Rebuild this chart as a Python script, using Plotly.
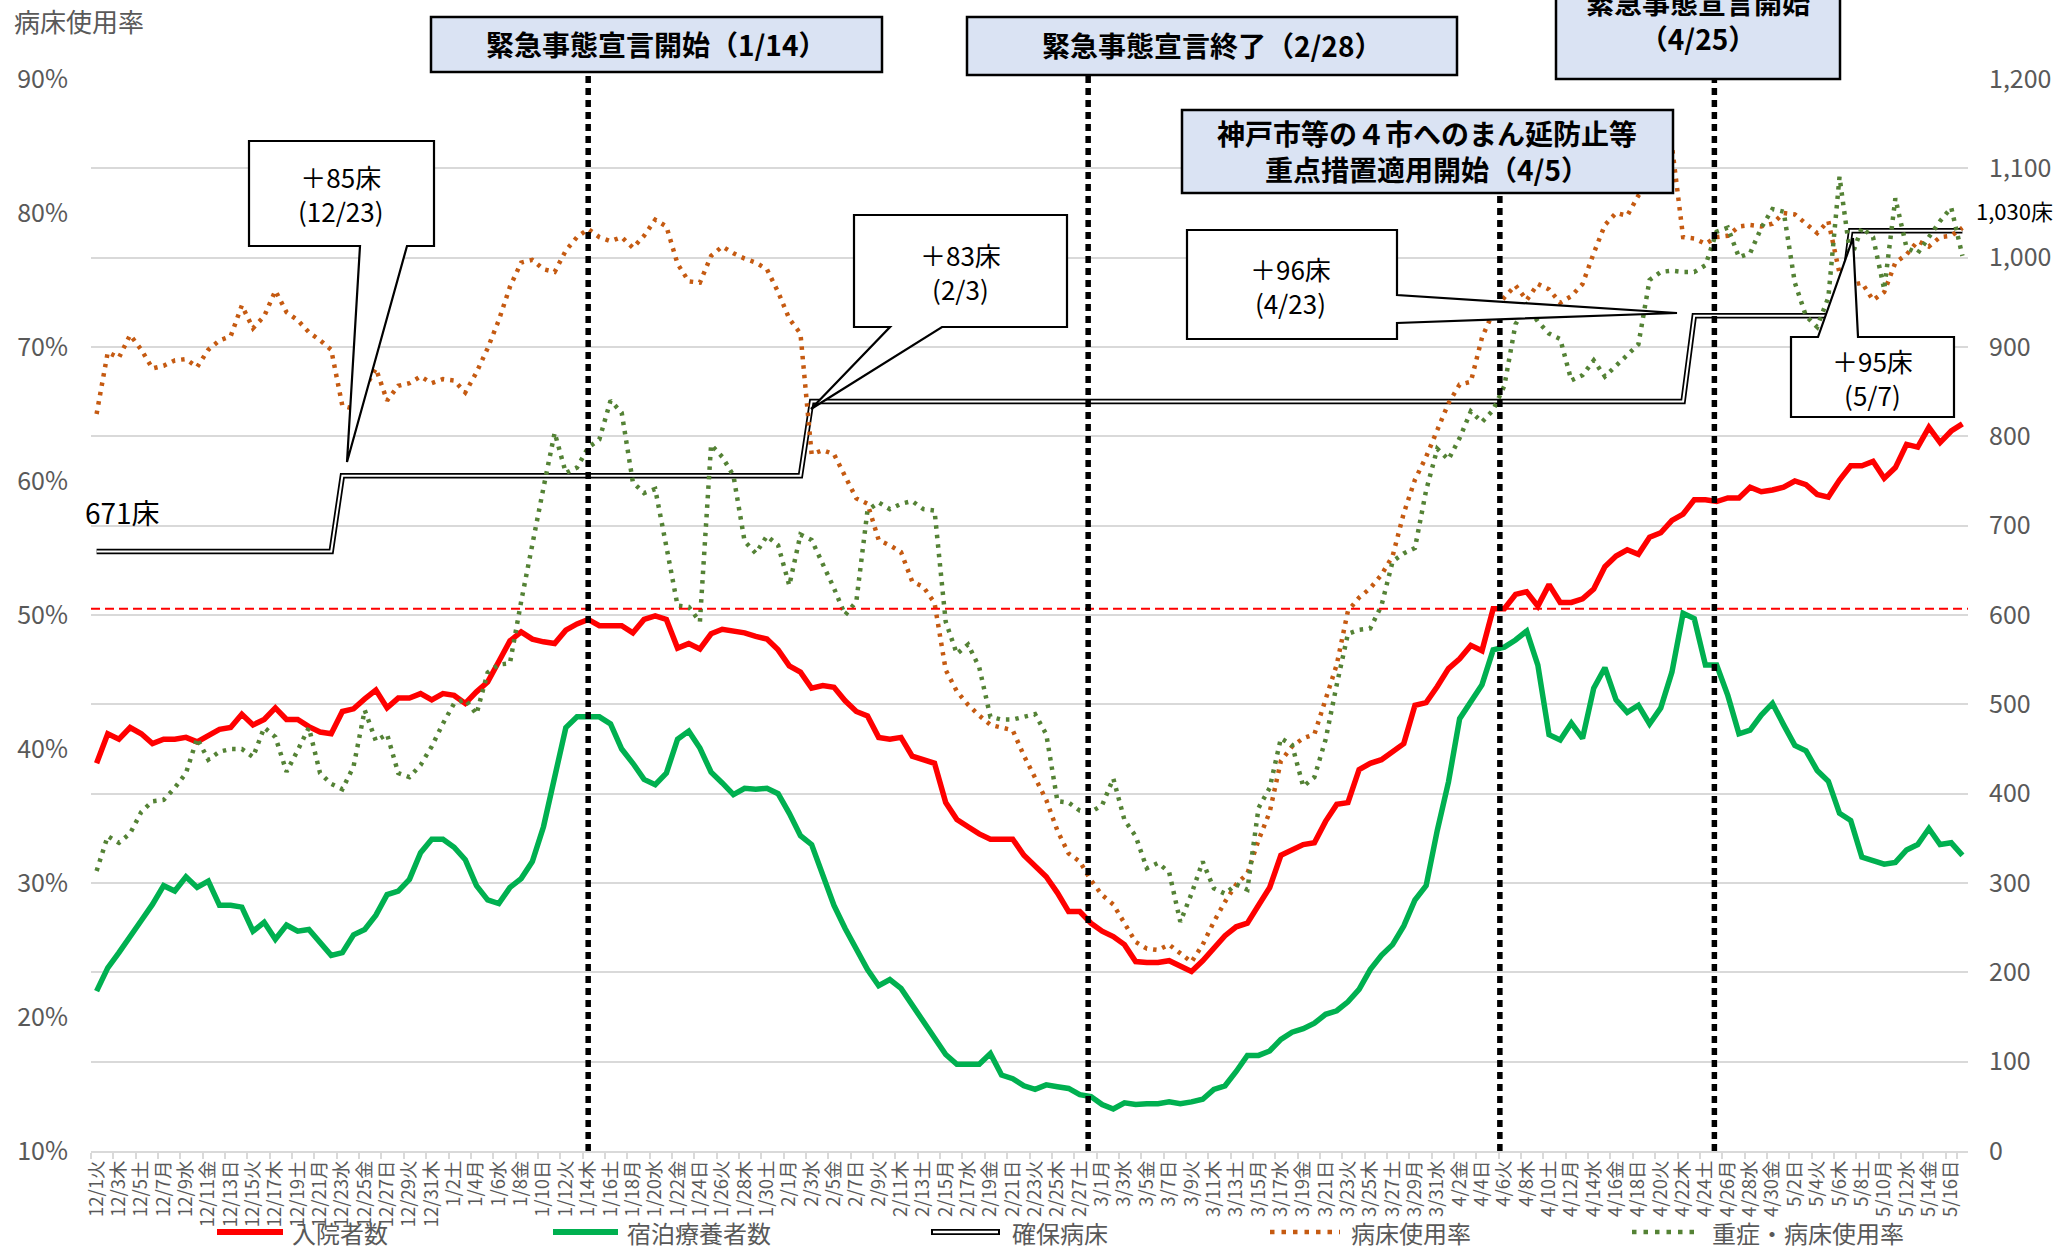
import datetime as dt
import plotly.graph_objects as go

# ---------------------------------------------------------------- data
WEEKDAYS = ["月", "火", "水", "木", "金", "土", "日"]
first_day = dt.date(2020, 12, 1)
n_days = 168
categories = []
for i in range(n_days):
    d = first_day + dt.timedelta(days=i)
    categories.append(f"{d.month}/{d.day}{WEEKDAYS[d.weekday()]}")
tick_labels = categories[::2]

# 入院者数 (right axis, persons)
inpatients = [
    434, 467, 461, 474, 467, 456, 461, 461, 463, 458, 465, 472, 474, 489,
    477, 483, 496, 483, 483, 475, 469, 467, 492, 495, 506, 516, 496, 507,
    507, 512, 505, 512, 510, 501, 514, 525, 548, 571, 581, 573, 570, 568,
    583, 590, 595, 588, 588, 588, 580, 595, 599, 595, 563, 568, 562, 579,
    584, 582, 580, 576, 573, 561, 543, 536, 518, 521, 519, 504, 492, 487,
    463, 461, 463, 442, 438, 434, 390, 371, 363, 355, 349, 349, 349, 331,
    319, 307, 289, 268, 268, 255, 246, 240, 231, 212, 211, 211, 213, 207,
    201, 213, 227, 241, 251, 255, 275, 295, 331, 337, 343, 345, 369, 388,
    390, 427, 434, 438, 447, 456, 499, 502, 520, 540, 551, 566, 560, 607,
    607, 623, 626, 610, 634, 614, 614, 618, 629, 654, 666, 673, 668, 687,
    692, 706, 713, 729, 729, 727, 731, 731, 743, 738, 740, 743, 750, 746,
    735, 732, 751, 767, 767, 772, 753, 765, 791, 788, 810, 793, 806, 814,
]

# 宿泊療養者数 (right axis, persons)
hotel_care = [
    179, 205, 222, 241, 258, 276, 297, 291, 307, 295, 302, 275, 275, 273,
    246, 256, 237, 253, 246, 248, 233, 219, 222, 242, 248, 264, 287, 291,
    304, 334, 349, 349, 340, 326, 297, 281, 277, 295, 305, 324, 363, 420,
    474, 486, 486, 486, 478, 450, 434, 416, 410, 423, 461, 470, 451, 424,
    412, 399, 406, 405, 406, 400, 378, 353, 343, 307, 275, 249, 225, 203,
    185, 192, 182, 164, 145, 127, 108, 97, 97, 97, 109, 85, 81, 73,
    69, 74, 72, 70, 63, 61, 52, 47, 54, 52, 53, 53, 55, 53,
    55, 58, 69, 73, 89, 107, 107, 112, 125, 133, 137, 143, 153, 157,
    167, 181, 203, 219, 231, 252, 281, 297, 359, 413, 484, 504, 522, 561,
    564, 572, 582, 544, 466, 460, 479, 462, 518, 541, 505, 491, 499, 478,
    496, 536, 602, 596, 544, 544, 510, 467, 471, 488, 501, 477, 454, 448,
    426, 414, 378, 370, 329, 325, 321, 323, 337, 343, 361, 343, 345, 331,
]

# 確保病床 (right axis, beds)
secured_beds = [
    671, 671, 671, 671, 671, 671, 671, 671, 671, 671, 671, 671, 671, 671,
    671, 671, 671, 671, 671, 671, 671, 671, 756, 756, 756, 756, 756, 756,
    756, 756, 756, 756, 756, 756, 756, 756, 756, 756, 756, 756, 756, 756,
    756, 756, 756, 756, 756, 756, 756, 756, 756, 756, 756, 756, 756, 756,
    756, 756, 756, 756, 756, 756, 756, 756, 839, 839, 839, 839, 839, 839,
    839, 839, 839, 839, 839, 839, 839, 839, 839, 839, 839, 839, 839, 839,
    839, 839, 839, 839, 839, 839, 839, 839, 839, 839, 839, 839, 839, 839,
    839, 839, 839, 839, 839, 839, 839, 839, 839, 839, 839, 839, 839, 839,
    839, 839, 839, 839, 839, 839, 839, 839, 839, 839, 839, 839, 839, 839,
    839, 839, 839, 839, 839, 839, 839, 839, 839, 839, 839, 839, 839, 839,
    839, 839, 839, 935, 935, 935, 935, 935, 935, 935, 935, 935, 935, 935,
    935, 935, 935, 1030, 1030, 1030, 1030, 1030, 1030, 1030, 1030, 1030, 1030, 1030,
]

# 病床使用率 (left axis, %)
bed_occupancy = [
    65.0, 69.6, 69.2, 70.9, 69.8, 68.4, 68.6, 69.0, 69.1, 68.5, 69.8, 70.5, 70.8, 73.1,
    71.4, 72.3, 74.2, 72.6, 72.0, 71.1, 70.5, 69.8, 65.6, 65.4, 66.9, 68.4, 66.0, 67.1,
    67.3, 67.8, 67.3, 67.6, 67.5, 66.6, 68.1, 69.9, 72.0, 74.5, 76.3, 76.5, 75.8, 75.6,
    77.2, 78.2, 78.8, 78.2, 77.9, 78.2, 77.4, 78.3, 79.5, 79.0, 76.2, 74.9, 74.8, 76.8,
    77.5, 77.0, 76.6, 76.3, 75.8, 74.1, 72.1, 71.0, 62.0, 62.3, 62.0, 60.4, 58.7, 58.3,
    55.6, 55.2, 54.7, 52.5, 52.1, 50.9, 45.9, 44.3, 43.3, 42.5, 41.8, 41.6, 41.4, 39.5,
    37.9, 36.2, 33.9, 32.2, 31.6, 30.2, 29.1, 28.4, 27.0, 25.6, 25.1, 25.0, 25.4, 24.7,
    24.1, 25.4, 27.1, 28.6, 29.9, 30.7, 33.2, 35.3, 39.1, 40.2, 40.8, 41.1, 43.7, 46.3,
    50.3, 51.3, 52.0, 53.0, 54.4, 57.6, 60.1, 61.8, 63.8, 65.8, 67.2, 67.4, 70.7, 72.6,
    73.7, 74.6, 73.5, 74.7, 74.3, 73.3, 73.8, 74.7, 77.0, 79.1, 80.0, 79.8, 81.3, 82.3,
    83.6, 85.0, 78.2, 78.1, 77.7, 78.2, 78.3, 79.0, 79.1, 79.0, 79.2, 80.0, 79.9, 79.2,
    78.5, 79.4, 75.5, 74.6, 74.8, 73.5, 74.1, 76.3, 76.9, 77.9, 77.5, 78.2, 78.3, 78.9,
]

# 重症・病床使用率 (left axis, %)
severe_occupancy = [
    30.9, 33.5, 33.0, 33.7, 35.3, 36.1, 36.2, 37.1, 38.2, 40.8, 39.2, 39.8, 40.0, 40.0,
    39.4, 41.6, 40.9, 38.3, 39.9, 41.6, 38.2, 37.4, 37.0, 38.7, 42.9, 40.6, 41.1, 38.2,
    37.9, 38.8, 40.2, 41.9, 43.4, 43.7, 42.6, 45.7, 46.3, 46.4, 51.0, 55.4, 59.5, 63.6,
    60.6, 61.0, 62.5, 63.1, 66.0, 65.1, 59.9, 59.1, 59.4, 55.1, 50.7, 50.6, 49.5, 62.7,
    61.8, 60.4, 55.5, 54.6, 55.9, 55.2, 52.2, 56.0, 55.6, 53.8, 52.0, 50.0, 51.0, 57.8,
    58.4, 57.9, 58.3, 58.5, 57.9, 57.8, 49.5, 47.1, 47.8, 46.1, 42.4, 42.2, 42.2, 42.4,
    42.6, 41.1, 36.1, 36.0, 35.4, 35.3, 35.8, 37.8, 34.7, 33.5, 31.1, 31.5, 30.8, 27.1,
    29.2, 31.6, 29.6, 29.2, 29.9, 29.5, 35.6, 37.1, 40.8, 40.3, 37.2, 37.9, 40.7, 44.8,
    48.6, 48.9, 49.0, 50.7, 54.0, 54.6, 55.0, 59.3, 62.4, 61.6, 63.2, 65.2, 64.4, 65.3,
    67.1, 71.7, 73.1, 71.9, 71.0, 70.6, 67.5, 67.9, 69.0, 67.8, 68.6, 69.5, 70.2, 75.0,
    75.6, 75.7, 75.6, 75.6, 76.1, 78.6, 78.9, 76.7, 77.0, 78.9, 80.3, 80.1, 74.8, 72.3,
    71.5, 73.7, 82.7, 76.6, 78.9, 78.2, 74.3, 81.1, 77.4, 77.0, 78.2, 79.4, 80.4, 76.8,
]

left_ticks = [10, 20, 30, 40, 50, 60, 70, 80, 90]
left_tick_text = [f"{v}%" for v in left_ticks]
reference_level = 607  # red dashed guide on the count axis

# event markers: (category, shift in days, top of the dotted line in px)
events = [("1/14木", 0.0, 73), ("2/28日", -0.25, 75), ("4/6火", -0.4, 193), ("4/25日", -0.2, 79)]

# ---------------------------------------------------------------- styling
W, H = 2063, 1249
PLOT_L, PLOT_R, PLOT_T, PLOT_B = 91, 1968, 79, 1151
FONT = "Noto Sans CJK JP"
GRAY = "#595959"
GRID = "#D9D9D9"
RED = "#FF0000"
GREEN = "#00B050"
BROWN = "#C55A11"
OLIVE = "#548235"
BOX_BLUE = "#DAE3F3"
DOTS = "3.5px,6px"


def fx(px):
    return (px - PLOT_L) / (PLOT_R - PLOT_L)


def fy(py):
    return (PLOT_B - py) / (PLOT_B - PLOT_T)


fig = go.Figure()

# counts on the right-hand axis ("y"), rates on the overlaid left-hand axis ("y2")
fig.add_trace(go.Scatter(
    x=categories, y=hotel_care, yaxis="y", mode="lines", name="宿泊療養者数",
    line=dict(color=GREEN, width=5.5)))
fig.add_trace(go.Scatter(
    x=categories, y=inpatients, yaxis="y", mode="lines", name="入院者数",
    line=dict(color=RED, width=5.5)))
fig.add_trace(go.Scatter(
    x=categories, y=secured_beds, yaxis="y", mode="lines", name="確保病床",
    line=dict(color="black", width=5.5)))
fig.add_trace(go.Scatter(
    x=categories, y=secured_beds, yaxis="y", mode="lines", name="確保病床",
    line=dict(color="white", width=2), showlegend=False, hoverinfo="skip"))
fig.add_trace(go.Scatter(
    x=categories, y=bed_occupancy, yaxis="y2", mode="lines", name="病床使用率",
    line=dict(color=BROWN, width=4.5, dash=DOTS)))
fig.add_trace(go.Scatter(
    x=categories, y=severe_occupancy, yaxis="y2", mode="lines", name="重症・病床使用率",
    line=dict(color=OLIVE, width=4.5, dash=DOTS)))

shapes = []
annotations = []

# red dashed guide
shapes.append(dict(type="line", xref="paper", x0=0, x1=1, yref="y",
                   y0=reference_level, y1=reference_level,
                   line=dict(color=RED, width=2, dash="9px,5px"), layer="above"))

# dotted event lines
for cat, shift, top_px in events:
    xi = categories.index(cat) + shift
    shapes.append(dict(type="line", xref="x", x0=xi, x1=xi, yref="paper",
                       y0=0, y1=fy(top_px),
                       line=dict(color="black", width=5.5, dash="7px,5px"), layer="above"))


def rect(x0, y0, x1, y1, fill):
    shapes.append(dict(type="rect", xref="paper", yref="paper",
                       x0=fx(x0), x1=fx(x1), y0=fy(y1), y1=fy(y0),
                       fillcolor=fill, line=dict(color="black", width=2.5), layer="above"))


def polygon(points):
    path = "M " + " L ".join(f"{fx(px):.5f},{fy(py):.5f}" for px, py in points) + " Z"
    shapes.append(dict(type="path", xref="paper", yref="paper", path=path,
                       fillcolor="white", line=dict(color="black", width=2.2), layer="above"))


def text(px, py, s, size, color="black", bold=False, xanchor="center", yanchor="middle"):
    if bold:
        s = "<br>".join(f"<b>{part}</b>" for part in s.split("<br>"))
    annotations.append(dict(xref="paper", yref="paper", x=fx(px), y=fy(py), text=s,
                            showarrow=False, xanchor=xanchor, yanchor=yanchor,
                            font=dict(family=FONT, size=size, color=color)))


# declaration boxes
rect(431, 17, 882, 72, BOX_BLUE)
text(656, 44, "緊急事態宣言開始（1/14）", 28, bold=True)
rect(967, 17, 1457, 75, BOX_BLUE)
text(1212, 45, "緊急事態宣言終了（2/28）", 28, bold=True)
rect(1556, -40, 1840, 79, BOX_BLUE)
text(1698, 20, "緊急事態宣言開始<br>（4/25）", 28, bold=True)
rect(1182, 110, 1673, 193, BOX_BLUE)
text(1427, 151, "神戸市等の４市へのまん延防止等<br>重点措置適用開始（4/5）", 28, bold=True)

# bed-increase callouts
polygon([(249, 141), (434, 141), (434, 246), (407, 246), (347, 462), (360, 246), (249, 246)])
text(341, 193, "＋85床<br>(12/23)", 26)
polygon([(854, 215), (1067, 215), (1067, 327), (942, 327), (811, 409), (890, 327), (854, 327)])
text(960, 271, "＋83床<br>(2/3)", 26)
polygon([(1187, 230), (1397, 230), (1397, 295), (1677, 313), (1397, 323), (1397, 339), (1187, 339)])
text(1290, 285, "＋96床<br>(4/23)", 26)
polygon([(1791, 337), (1818, 337), (1853, 238), (1858, 337), (1954, 337), (1954, 417), (1791, 417)])
text(1872, 377, "＋95床<br>(5/7)", 26)

# bed count labels
text(122, 512, "671床", 28)
text(2014, 210, "1,030床", 22)

# left axis title
text(12, 21, "病床使用率", 26, color=GRAY, xanchor="left")

# legend
LEG_Y = 1232
legend_items = [
    (217, 283, 290, "入院者数", "solid", RED),
    (553, 618, 625, "宿泊療養者数", "solid", GREEN),
    (931, 1000, 1010, "確保病床", "double", "black"),
    (1270, 1340, 1349, "病床使用率", "dot", BROWN),
    (1632, 1697, 1710, "重症・病床使用率", "dot", OLIVE),
]
for x0, x1, tx, label, style, color in legend_items:
    if style == "solid":
        shapes.append(dict(type="line", xref="paper", yref="paper", x0=fx(x0), x1=fx(x1),
                           y0=fy(LEG_Y), y1=fy(LEG_Y), line=dict(color=color, width=6)))
    elif style == "double":
        shapes.append(dict(type="line", xref="paper", yref="paper", x0=fx(x0), x1=fx(x1),
                           y0=fy(LEG_Y), y1=fy(LEG_Y), line=dict(color="black", width=6)))
        shapes.append(dict(type="line", xref="paper", yref="paper", x0=fx(x0 + 2), x1=fx(x1 - 2),
                           y0=fy(LEG_Y), y1=fy(LEG_Y), line=dict(color="white", width=2.5)))
    else:
        shapes.append(dict(type="line", xref="paper", yref="paper", x0=fx(x0), x1=fx(x1),
                           y0=fy(LEG_Y), y1=fy(LEG_Y),
                           line=dict(color=color, width=4.5, dash="4.5px,7px")))
    text(tx, LEG_Y, label, 24, color=GRAY, xanchor="left")

fig.update_layout(
    width=W, height=H,
    margin=dict(l=PLOT_L, r=W - PLOT_R, t=PLOT_T, b=H - PLOT_B, autoexpand=False),
    paper_bgcolor="white", plot_bgcolor="white",
    showlegend=False,
    font=dict(family=FONT, color=GRAY),
    xaxis=dict(
        type="category", categoryorder="array", categoryarray=categories,
        range=[-0.5, n_days - 0.5],
        tickmode="array", tickvals=tick_labels, ticktext=tick_labels,
        tickangle=-90, tickfont=dict(family=FONT, size=18.5, color=GRAY),
        tickson="boundaries", ticks="outside", ticklen=6, tickwidth=2, tickcolor=GRID,
        showline=True, linecolor=GRID, linewidth=2, showgrid=False, zeroline=False,
    ),
    yaxis=dict(
        range=[0, 1200], tick0=0, dtick=100, side="right",
        showgrid=True, gridcolor=GRID, gridwidth=2, zeroline=False, showline=False, ticks="",
        tickformat=",d", tickfont=dict(family=FONT, size=25, color=GRAY), ticklabelstandoff=20,
    ),
    yaxis2=dict(
        range=[10, 90], tickmode="array", tickvals=left_ticks, ticktext=left_tick_text,
        overlaying="y", side="left",
        showgrid=False, zeroline=False, showline=False, ticks="",
        tickfont=dict(family=FONT, size=25, color=GRAY), ticklabelstandoff=22,
    ),
    shapes=shapes,
    annotations=annotations,
)

fig.write_html("out.html")
